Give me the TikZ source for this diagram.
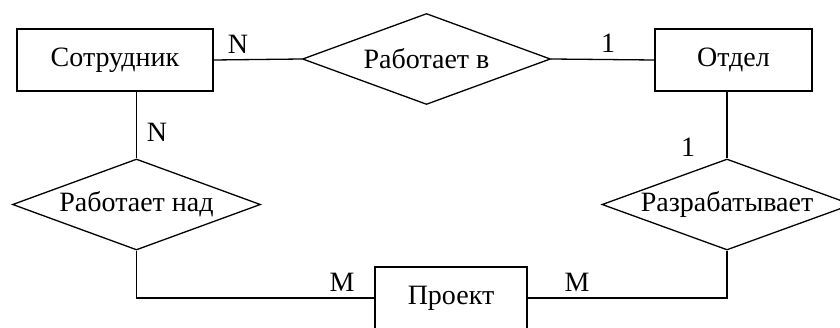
\documentclass[tikz,border=0pt]{standalone}
\usepackage{fontspec}
\newfontfamily\erfont{Liberation Serif}
\usetikzlibrary{shapes.geometric}

\tikzset{
  entity/.style={draw, rectangle, inner sep=0pt, minimum height=31pt},
  relation/.style={draw, diamond, aspect=2.7, inner sep=0pt, minimum width=124pt, minimum height=45.5pt},
  card/.style={inner sep=0pt}
}

\begin{document}
\begin{tikzpicture}[x=0.5pt, y=0.5pt, line width=0.65pt,
    every node/.style={font=\erfont\fontsize{14}{16}\selectfont}]
  \useasboundingbox (0,0) rectangle (840,327);

  % Entities
  \node[entity, minimum width=98pt] (emp)  at (115,267) {Сотрудник};
  \node[entity, minimum width=78.5pt] (dept) at (733.5,267) {Отдел};
  \node[entity, minimum width=76pt] (proj) at (451,29) {Проект};

  % Relationships
  \node[relation] (worksin)   at (426.5,268) {Работает в};
  \node[relation] (workson)   at (136.5,122.5) {Работает над};
  \node[relation, minimum width=125pt] (develops) at (727,122.5) {Разрабатывает};

  % Connectors
  \draw (emp.east) -- (worksin.west);
  \draw (worksin.east) -- (dept.west);
  \draw (workson.north |- emp.south) -- (workson.north);
  \draw (develops.north |- dept.south) -- (develops.north);
  \draw (workson.south) |- (proj.west);
  \draw (develops.south) |- (proj.east);

  % Cardinalities
  \node[card] (cN1) at (238,283) {N};
  \node[card] (c11) at (608,284) {1};
  \node[card] (cN2) at (157,195) {N};
  \node[card] (c12) at (688,180) {1};
  \node[card] (cM1) at (342,45) {M};
  \node[card] (cM2) at (577,45) {M};
\end{tikzpicture}
\end{document}
